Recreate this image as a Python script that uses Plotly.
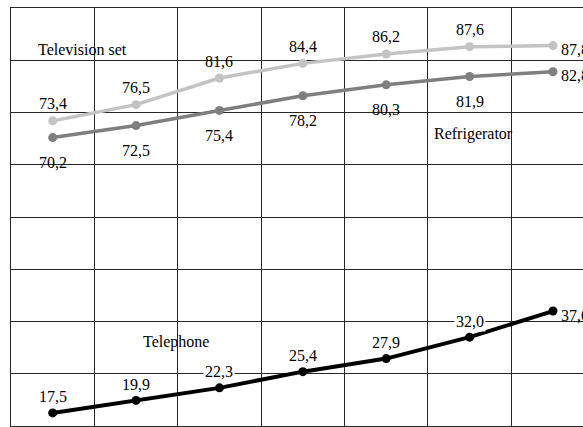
import plotly.graph_objects as go

years_idx = [0, 1, 2, 3, 4, 5, 6]
television = [73.4, 76.5, 81.6, 84.4, 86.2, 87.6, 87.8]
refrigerator = [70.2, 72.5, 75.4, 78.2, 80.3, 81.9, 82.8]
telephone = [17.5, 19.9, 22.3, 25.4, 27.9, 32.0, 37.0]
series_names = ["Television set", "Refrigerator", "Telephone"]

FONT = "Liberation Serif"

def fmt(v):
    return f"{v:.1f}".replace(".", ",")

fig = go.Figure()

series = [
    (television, "#c3c3c3", 3.5, 9, -17, None),
    (refrigerator, "#7f7f7f", 3.5, 9, 25, None),
    (telephone, "#000000", 4, 9, -16, "white"),
]

for (vals, color, lw, ms, dy, bg), name in zip(series, series_names):
    fig.add_trace(go.Scatter(
        x=years_idx, y=vals, mode="lines+markers", name=name,
        line=dict(color=color, width=lw),
        marker=dict(color=color, size=ms),
        showlegend=False,
    ))
    for i, (x, v) in enumerate(zip(years_idx, vals)):
        last = i == len(vals) - 1
        fig.add_annotation(
            x=x, y=v, text=fmt(v), showarrow=False,
            xanchor="left" if last else "center",
            xshift=6 if last else 0,
            yshift=-4 if last else -dy,
            font=dict(family=FONT, size=16, color="black"),
            bgcolor=bg if (bg and not last) else None,
            borderpad=1,
        )

# series name labels
name_pos = [(0.36, 87.0), (5.05, 70.9), (1.48, 31.1)]
for name, (nx, ny) in zip(series_names, name_pos):
    fig.add_annotation(x=nx, y=ny, text=name, showarrow=False,
                       font=dict(family=FONT, size=16, color="black"))

grid = "#262626"
fig.update_layout(
    width=583, height=427,
    font=dict(family=FONT),
    margin=dict(l=11, r=0, t=8, b=1),
    paper_bgcolor="white", plot_bgcolor="white",
    xaxis=dict(range=[-0.5, 6.36], tick0=-0.5, dtick=1, showgrid=True,
               gridcolor=grid, gridwidth=1, showticklabels=False, ticks="",
               zeroline=False, showline=True, mirror=True, linecolor=grid, linewidth=1),
    yaxis=dict(range=[15, 95], tick0=15, dtick=10, showgrid=True,
               gridcolor=grid, gridwidth=1, showticklabels=False, ticks="",
               zeroline=False, showline=True, linecolor=grid, linewidth=1),
)

fig.write_html("out.html", config={"displayModeBar": False},
               post_script="document.body.style.margin='0';document.body.style.overflow='hidden';")
